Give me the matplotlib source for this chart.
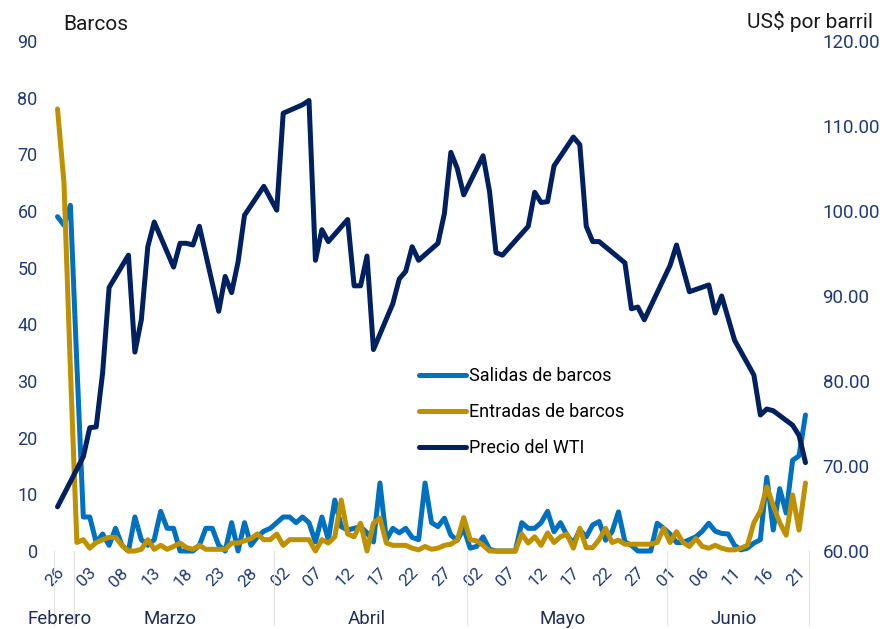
import numpy as np
import pandas as pd
import matplotlib
matplotlib.use('Agg')
import matplotlib.pyplot as plt
from matplotlib.lines import Line2D
import matplotlib.transforms as mtransforms

plt.rcParams['font.family'] = ['Roboto', 'DejaVu Sans']

# categorias: dias del 26 feb al 22 jun
fechas = pd.date_range('2026-02-26', '2026-06-22', freq='D')

salidas = [59, 57.5, 61, 33, 6, 6, 1.5, 3, 1, 4,
           1, 0, 6, 2, 1, 2, 7, 4, 4, 0,
           0, 0, 1, 4, 4, 1, 0, 5, 0, 5,
           1, 2.5, 3.5, 4, 5, 6, 6, 5, 6, 5,
           1.6, 6, 2, 9, 4.3, 3.7, 4, 4.3, 3.2, 1.6,
           12, 2, 4, 3.2, 4, 2.4, 2, 12, 5, 4.3,
           5.8, 2.8, 1.9, 4, 0.5, 0.8, 2.5, 0.3, 0, 0,
           0, 0, 5, 4, 4, 5, 7, 3.4, 5, 2.8,
           1.4, 3.7, 2.5, 4.6, 5.2, 1.9, 3.4, 6.9, 1.6, 1,
           0, 0, 0, 4.9, 4, 3, 1.5, 1.5, 2, 2.5,
           3.5, 4.9, 3.5, 3.1, 3, 1, 0.2, 0.5, 1.4, 2,
           13, 3.7, 11, 6.7, 16, 16.8, 24]

entradas = [78, 65, 32, 1.5, 2, 0.5, 1.5, 2, 2.4, 2.4,
            1, 0, 0, 0.3, 2, 0.3, 1, 0.3, 0.8, 1.4,
            0.6, 0.3, 1, 0.3, 0.3, 0.3, 0.3, 1.4, 1.4, 1.8,
            2.2, 3, 2, 2, 3, 1, 2, 2, 2, 2,
            0, 2, 1.4, 2.5, 9, 3, 2.5, 4.9, 0, 4.9,
            5.8, 1.4, 1, 1, 1, 0.5, 0.2, 0.8, 0.3, 0.5,
            1, 1.2, 1.9, 5.9, 2, 1.8, 1, 0, 0, 0,
            0, 0, 3, 1.4, 2.5, 1, 3.2, 1.5, 2.5, 3,
            0.5, 4, 0.6, 0.6, 2, 4, 1.5, 1.9, 1.2, 1.2,
            1.2, 1.2, 1.2, 1.5, 4, 1.5, 3.4, 1.5, 0.8, 2.2,
            0.8, 0.5, 1, 0.5, 0.2, 0.2, 0.5, 1, 5, 7,
            11.3, 8, 5, 2.8, 9.9, 3.7, 12]

# precio WTI (None = sin cotizacion)
wti = [65.2, None, None, None, 71.1, 74.5, 74.6, 81.0, 91.0, None,
       None, 94.8, 83.4, 87.2, 95.8, 98.7, None, None, 93.4, 96.2,
       96.2, 96.0, 98.2, None, None, 88.2, 92.3, 90.4, 94.0, 99.5,
       None, None, 102.9, None, 100.1, 111.5, None, None, 112.5, 113.0,
       94.2, 97.8, 96.4, None, None, 99.0, 91.2, 91.2, 94.7, 83.7,
       None, None, 89.1, 92.0, 92.9, 95.8, 94.2, None, None, 96.2,
       99.7, 106.9, 105.0, 101.9, None, None, 106.5, 102.3, 95.1, 94.8,
       None, None, None, 98.2, 102.2, 101.0, 101.1, 105.3, None, None,
       108.7, 107.8, 98.2, 96.4, 96.4, None, None, None, 93.9, 88.5,
       88.7, 87.2, None, None, None, 93.6, 96.0, None, 90.5, None,
       None, 91.3, 88.0, 90.0, None, 84.8, None, None, 80.7, 76.0,
       76.7, 76.5, None, None, 74.8, 73.6, 70.4]

meses = ['Febrero', 'Marzo', 'Abril', 'Mayo', 'Junio']

c_sal = '#0070C0'
c_ent = '#BF9000'
c_wti = '#002060'
c_tick = '#1f3a78'

x = np.arange(len(fechas))
wti_arr = np.array([np.nan if v is None else v for v in wti])
ok = ~np.isnan(wti_arr)

fig = plt.figure(figsize=(8.88, 6.29), dpi=100)
ax = fig.add_axes([53 / 888, 78 / 629, 757 / 888, 510 / 629])
ax2 = ax.twinx()

lw = 3.6
ax.plot(x, salidas, color=c_sal, lw=lw, solid_joinstyle='round', solid_capstyle='round', clip_on=False)
ax.plot(x, entradas, color=c_ent, lw=lw, solid_joinstyle='round', solid_capstyle='round', clip_on=False)
ax2.plot(x[ok], wti_arr[ok], color=c_wti, lw=lw, solid_joinstyle='round', solid_capstyle='round', clip_on=False)

ax.set_xlim(-0.7, 116.7)
ax.set_ylim(0, 90)
ax2.set_ylim(60, 120)

ax.set_yticks(range(0, 91, 10))
ax.tick_params(axis='y', length=0, pad=11, labelsize=13, labelcolor=c_tick)
ax2.set_yticks(range(60, 121, 10))
ax2.set_yticklabels([f'{v:.2f}' for v in range(60, 121, 10)])
ax2.tick_params(axis='y', length=0, pad=9, labelsize=13.5, labelcolor=c_tick)

ticks = list(range(0, len(fechas), 5))
ax.set_xticks(ticks)
ax.set_xticklabels([fechas[i].strftime('%d') for i in ticks], rotation=45,
                   ha='right', va='center', rotation_mode='anchor')
ax.tick_params(axis='x', length=0, pad=14, labelsize=12.5, labelcolor=c_tick)
shift = mtransforms.ScaledTranslation(4 / 100, 0, fig.dpi_scale_trans)
for lab in ax.get_xticklabels():
    lab.set_transform(lab.get_transform() + shift)

for a in (ax, ax2):
    for s in a.spines.values():
        s.set_visible(False)

# separadores de meses y etiquetas
trans = mtransforms.blended_transform_factory(ax.transData, ax.transAxes)
bordes = [-0.5]
for i in range(1, len(fechas)):
    if fechas[i].month != fechas[i - 1].month:
        bordes.append(i - 0.5)
bordes.append(len(fechas) - 0.5)
for b in bordes:
    ax.add_line(Line2D([b, b], [0, -0.145], transform=trans, color='#e3e3e3',
                       lw=0.8, clip_on=False))
for m, (a0, a1) in zip(meses, zip(bordes[:-1], bordes[1:])):
    ax.text((a0 + a1) / 2 - 0.6, -0.134, m, transform=trans, ha='center', va='center',
            fontsize=13.5, color='#1f2f5a')

fig.text(63 / 888, 1 - 25 / 629, 'Barcos', ha='left', va='center', fontsize=15, color='#1a1a1a')
fig.text(873 / 888, 1 - 21 / 629, 'US$ por barril', ha='right', va='center', fontsize=15, color='#1a1a1a')

handles = [Line2D([], [], color=c_sal, lw=lw, solid_capstyle='round'),
           Line2D([], [], color=c_ent, lw=lw, solid_capstyle='round'),
           Line2D([], [], color=c_wti, lw=lw, solid_capstyle='round')]
fig.legend(handles, ['Salidas de barcos', 'Entradas de barcos', 'Precio del WTI'],
           loc='upper left', bbox_to_anchor=(419 / 888, 1 - 367 / 629), frameon=False,
           fontsize=13, handlelength=2.6, handletextpad=0.15, labelspacing=1.0,
           borderpad=0, borderaxespad=0)

fig.savefig('out.png', dpi=100)
